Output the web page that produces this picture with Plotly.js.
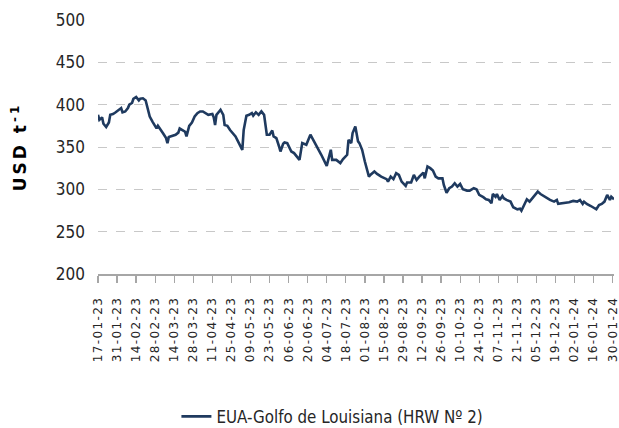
<!DOCTYPE html>
<html>
<head>
<meta charset="utf-8">
<script src="https://cdn.plot.ly/plotly-3.0.1.min.js"></script>
<style>
html,body{margin:0;padding:0;background:#fff;}
#chart{width:619px;height:428px;}
#chart .xtick text{letter-spacing:1.4px;}
#chart .ytitle{letter-spacing:3px;}
</style>
</head>
<body>
<div id="chart"></div>
<script>
// Start date of the series and day offsets
const startDate = '2023-01-17';
const dayOffset = [0,1,3,4,6,8,9,11,13,15,17,18,20,22,23,25,26,28,30,31,33,35,36,38,40,41,43,44,46,48,50,51,52,54,57,59,60,62,64,65,67,69,71,73,75,77,79,81,84,85,86,87,89,90,92,93,95,97,101,103,106,107,109,111,113,114,116,118,120,122,123,124,126,128,129,131,133,134,136,137,139,141,142,144,146,148,150,153,156,158,161,164,168,171,172,175,178,180,183,184,186,187,189,191,192,194,196,199,200,203,205,208,212,213,215,217,219,221,223,226,227,230,232,234,236,239,240,242,244,246,248,250,253,254,256,258,260,262,264,266,268,271,273,276,278,280,283,285,287,289,290,292,293,295,297,298,300,303,305,308,310,311,313,315,317,319,321,323,325,327,330,332,335,337,338,342,346,349,352,354,356,357,359,362,364,366,368,370,372,374,376,377,379];
const price = [388,382,385,377.5,373.6,379,388,389,391,393,396,391,392,396,400,402,407,409,405,407,407.5,405,399,386,380,377.5,372,375,369.5,365.6,360.5,354.6,361.7,362.5,364.5,367,372,370,368,362.5,375,379,386,390,392,392,390,388,389,385,376,388,392,394,388,376,375,370,362.5,356.5,346.7,370,387,388,390,387,391,388,392,388,376,364.5,364.5,369.5,362.5,360.5,350.6,344.7,353.8,355.3,354.6,348.7,344.7,342.8,338.7,334.8,354.6,352.6,364.5,358.5,350.6,340.8,327.7,346.7,334.8,334.8,331,335.7,340.8,358.5,354.6,366.4,374.3,356.6,354.6,346.7,332.9,315,317,321,318.2,315,312,309.1,315,312,319,317,309.1,304,308,308,317,311,315,319.8,313,327,325,322.2,315,313,313,305.2,296,301.3,303.2,307.2,303.2,306.4,300.1,298.5,298.5,301.3,300.1,293.4,290.7,288.3,287.5,283.5,294.5,291.3,294.5,287.5,292.2,289.5,287.5,285.5,278.8,276.4,277.2,274.9,281.5,288.3,285.5,289.5,292.2,297.3,294.5,292.2,289.5,287.5,285.5,287.5,282.8,283.5,284.7,286.3,285.5,287.5,282.8,285.5,282.8,280.3,278.8,276.4,281.5,282.8,285.5,293.4,287.5,291.3,288.3];
const seriesName = 'EUA-Golfo de Louisiana (HRW Nº 2)';
const yTitle = 'USD t<sup>-1</sup>';
const xRange = ['2023-01-17', '2024-01-31'];

const t0 = new Date(startDate + 'T00:00:00Z').getTime();
const dates = dayOffset.map(d => new Date(t0 + d * 86400000).toISOString().slice(0, 10));

const COND = '"DejaVu Sans Condensed", "DejaVu Sans", sans-serif';

Plotly.newPlot('chart', [{
  type: 'scatter', mode: 'lines', x: dates, y: price, name: seriesName,
  line: {color: '#1f3a5f', width: 2.6}
}], {
  width: 619, height: 428,
  margin: {l: 98, r: 5, t: 20, b: 154},
  paper_bgcolor: '#fff', plot_bgcolor: '#fff',
  font: {family: COND, color: '#262626'},
  showlegend: true,
  legend: {orientation: 'h', x: 0.285, xanchor: 'left', xref: 'container', y: 0.027, yanchor: 'middle', yref: 'container',
           font: {size: 16.8, family: COND, color: '#262626'}},
  xaxis: {
    type: 'date', range: xRange, tick0: startDate, dtick: 14 * 86400000,
    tickformat: '\u00a0%d-%m-%y', tickangle: -90, ticklabeloverflow: 'allow',
    tickfont: {size: 12, family: '"DejaVu Sans", sans-serif', color: '#262626'},
    ticks: 'outside', ticklen: 7, tickcolor: '#a6a6a6', tickwidth: 1.3, ticklabelstandoff: 9,
    showline: true, linecolor: '#a6a6a6', linewidth: 1.8, showgrid: false, zeroline: false
  },
  yaxis: {
    range: [200, 500], dtick: 50, tickfont: {size: 17, family: COND, color: '#262626'},
    showgrid: true, gridcolor: '#c8c8c8', griddash: 'dash', gridwidth: 1,
    showline: false, zeroline: false, ticks: '', ticklabelstandoff: 12,
    title: {text: yTitle, font: {size: 17, family: '"DejaVu Sans", sans-serif', color: '#000', weight: 'bold'}, standoff: 24}
  }
}, {displayModeBar: false, staticPlot: true});
</script>
</body>
</html>
